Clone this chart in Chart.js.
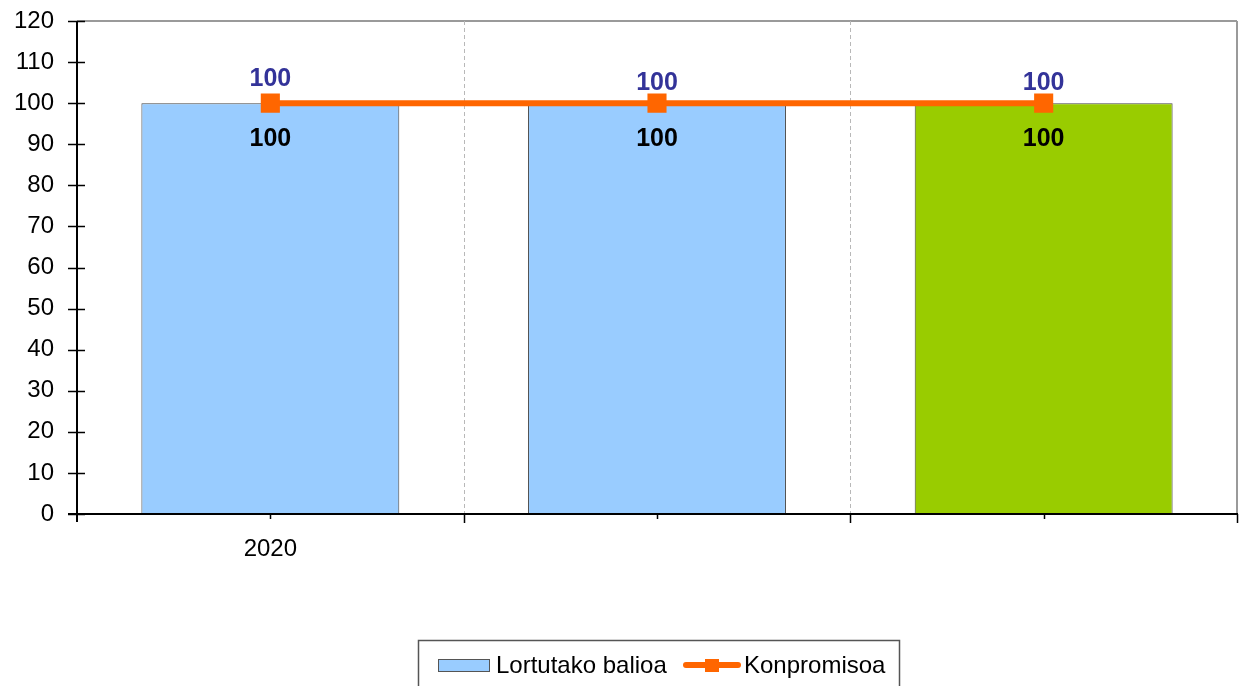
<!DOCTYPE html>
<html>
<head>
<meta charset="utf-8">
<title>Lortutako balioa / Konpromisoa</title>
<script src="https://cdn.jsdelivr.net/npm/chart.js@4.4.1/dist/chart.umd.min.js"></script>
<style>
  html, body { margin: 0; padding: 0; background: #ffffff; }
  #wrap { width: 1239px; height: 686px; position: relative; }
</style>
</head>
<body>
<div id="wrap"><canvas id="chart" width="1239" height="686"></canvas></div>
<script>
// Categories and series
const categories = ['2020', '', ''];
const achievedValues = [100, 100, 100];
const commitmentValues = [100, 100, 100];
const barColors = ['#99CCFF', '#99CCFF', '#99CC00'];
const yTicks = { min: 0, max: 120, step: 10 };
const seriesNames = ['Lortutako balioa', 'Konpromisoa'];

const FONT = '"Liberation Sans", Arial, sans-serif';
const FONT_SIZE = 24;
const LABEL_SIZE = 25;

// Axis frame, grid, tick marks, value labels and boxed legend
const decorPlugin = {
  id: 'decor',
  beforeDatasetsDraw(chart) {
    const { ctx, chartArea: a, scales: { x, y } } = chart;
    ctx.save();
    // top and right frame
    ctx.strokeStyle = '#9a9a9a';
    ctx.lineWidth = 2;
    ctx.beginPath();
    ctx.moveTo(a.left, y.getPixelForValue(yTicks.max));
    ctx.lineTo(a.right, y.getPixelForValue(yTicks.max));
    ctx.moveTo(a.right, y.getPixelForValue(yTicks.max));
    ctx.lineTo(a.right, y.getPixelForValue(yTicks.min));
    ctx.stroke();
    // dashed dividers between categories
    const half = (x.getPixelForValue(1) - x.getPixelForValue(0)) / 2;
    ctx.strokeStyle = '#b8b8b8';
    ctx.lineWidth = 1;
    ctx.setLineDash([4, 3]);
    for (let i = 0; i < categories.length - 1; i++) {
      const px = Math.round(x.getPixelForValue(i) + half) + 0.5;
      ctx.beginPath();
      ctx.moveTo(px, a.top);
      ctx.lineTo(px, a.bottom);
      ctx.stroke();
    }
    ctx.restore();
  },
  afterDatasetsDraw(chart) {
    const { ctx, chartArea: a, scales: { x, y } } = chart;
    ctx.save();
    const y0 = y.getPixelForValue(yTicks.min);
    // axes
    ctx.strokeStyle = '#000';
    ctx.lineWidth = 2;
    ctx.beginPath();
    ctx.moveTo(a.left, y.getPixelForValue(yTicks.max));
    ctx.lineTo(a.left, y0 + 8);
    ctx.moveTo(a.left - 9, y0);
    ctx.lineTo(a.right + 1, y0);
    ctx.stroke();
    // y tick marks crossing the axis
    ctx.lineWidth = 1.5;
    ctx.beginPath();
    for (let v = yTicks.min; v <= yTicks.max; v += yTicks.step) {
      const py = Math.round(y.getPixelForValue(v)) + 0.5;
      ctx.moveTo(a.left - 9, py);
      ctx.lineTo(a.left + 8, py);
    }
    // x tick marks: long at category edges, short at centres
    const half = (x.getPixelForValue(1) - x.getPixelForValue(0)) / 2;
    for (let i = 0; i < categories.length; i++) {
      const c = x.getPixelForValue(i);
      ctx.moveTo(Math.round(c) + 0.5, y0);
      ctx.lineTo(Math.round(c) + 0.5, y0 + 5);
      const edge = Math.round(c + half) + 0.5;
      ctx.moveTo(edge, y0);
      ctx.lineTo(edge, y0 + 9);
    }
    ctx.stroke();

    // value labels
    ctx.font = 'bold ' + LABEL_SIZE + 'px ' + FONT;
    ctx.textAlign = 'center';
    ctx.textBaseline = 'middle';
    const barMeta = chart.getDatasetMeta(0);
    barMeta.data.forEach((el, i) => {
      ctx.fillStyle = '#000000';
      ctx.fillText(String(achievedValues[i]), el.x, el.y + 36);
    });
    const lineMeta = chart.getDatasetMeta(1);
    lineMeta.data.forEach((el, i) => {
      ctx.fillStyle = '#333399';
      ctx.fillText(String(commitmentValues[i]), el.x, el.y - (i === 0 ? 24 : 20));
    });

    // legend box
    const lx = 418, ly = 640;
    ctx.strokeStyle = '#555';
    ctx.lineWidth = 1.5;
    ctx.strokeRect(lx + 0.5, ly + 0.5, 481, 60);
    ctx.font = FONT_SIZE + 'px ' + FONT;
    ctx.textAlign = 'left';
    ctx.textBaseline = 'alphabetic';
    // bar swatch
    ctx.fillStyle = barColors[0];
    ctx.fillRect(438, 659, 51, 12);
    ctx.strokeStyle = '#555';
    ctx.lineWidth = 1;
    ctx.strokeRect(438.5, 659.5, 51, 12);
    ctx.fillStyle = '#000';
    ctx.fillText(seriesNames[0], 496, 673);
    // line swatch
    ctx.strokeStyle = '#FF6600';
    ctx.lineWidth = 6;
    ctx.lineCap = 'round';
    ctx.beginPath();
    ctx.moveTo(686, 665);
    ctx.lineTo(738, 665);
    ctx.stroke();
    ctx.fillStyle = '#FF6600';
    ctx.fillRect(705, 659, 14, 13);
    ctx.fillStyle = '#000';
    ctx.fillText(seriesNames[1], 744, 673);
    ctx.restore();
  }
};

new Chart(document.getElementById('chart'), {
  type: 'bar',
  data: {
    labels: categories,
    datasets: [
      {
        type: 'bar',
        label: seriesNames[0],
        data: achievedValues,
        backgroundColor: barColors,
        borderColor: '#444444',
        borderWidth: 1,
        categoryPercentage: 1,
        barPercentage: 0.667,
        order: 2
      },
      {
        type: 'line',
        label: seriesNames[1],
        data: commitmentValues,
        borderColor: '#FF6600',
        backgroundColor: '#FF6600',
        borderWidth: 6,
        pointStyle: 'rect',
        pointRadius: 13.5,
        pointBorderWidth: 0,
        pointBackgroundColor: '#FF6600',
        fill: false,
        tension: 0,
        order: 1
      }
    ]
  },
  options: {
    responsive: false,
    animation: false,
    events: [],
    layout: { autoPadding: false, padding: { top: 21, right: 2, left: 0, bottom: 0 } },
    plugins: { legend: { display: false }, tooltip: { enabled: false } },
    scales: {
      x: {
        offset: true,
        grid: { display: false, drawTicks: false },
        border: { display: false },
        ticks: {
          color: '#000',
          font: { family: FONT, size: FONT_SIZE },
          padding: 21,
          maxRotation: 0
        },
        afterFit(scale) { scale.height = 172; }
      },
      y: {
        min: yTicks.min,
        max: yTicks.max,
        grid: { display: false, drawTicks: false },
        border: { display: false },
        ticks: {
          stepSize: yTicks.step,
          color: '#000',
          font: { family: FONT, size: FONT_SIZE },
          padding: 23
        },
        afterFit(scale) {
          scale.width = 77;
          scale.paddingTop = 0;
          scale.paddingBottom = 0;
        }
      }
    }
  },
  plugins: [decorPlugin]
});
</script>
</body>
</html>
